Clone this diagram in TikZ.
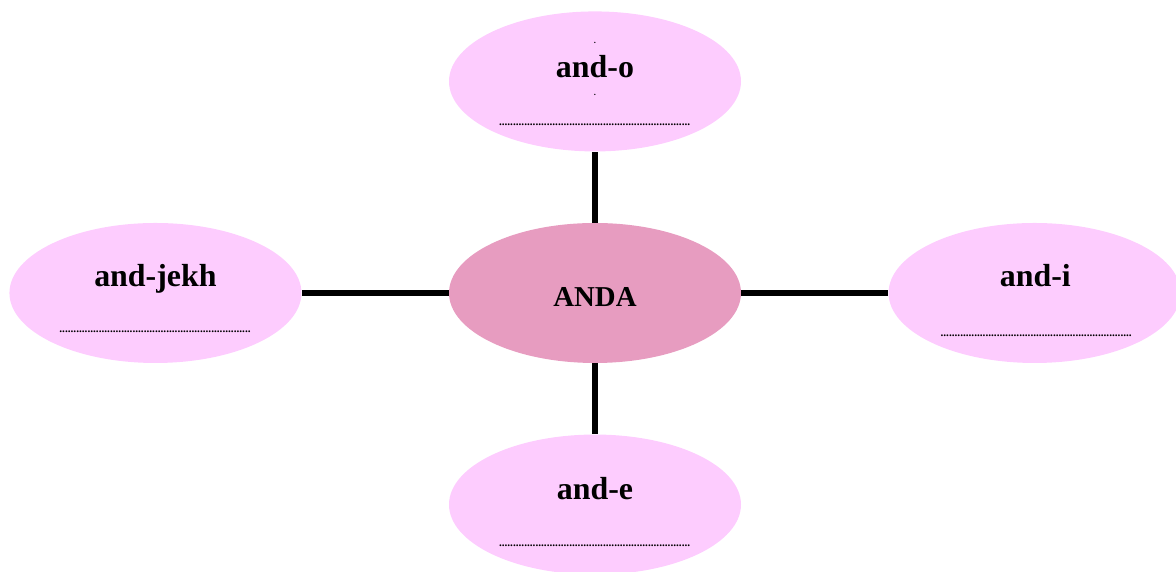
\documentclass[tikz,border=0pt]{standalone}
\usepackage{fontspec}
\setmainfont{Liberation Serif}
\usetikzlibrary{shapes.geometric,positioning}

\definecolor{lightpink}{HTML}{FDCCFE}
\definecolor{rosepink}{HTML}{E79CC0}

% row of dots for writing in
\newcommand{\dotrow}{{\bfseries\fontsize{8}{8}\selectfont\hbox to 4.8cm{\leaders\hbox{.}\hfill}}}

\tikzset{
	bubble/.style={ellipse, fill=lightpink, minimum width=7.3cm, minimum height=3.5cm, inner sep=0pt},
	hub/.style={bubble, fill=rosepink},
	word/.style={font=\bfseries\fontsize{22.7}{22.7}\selectfont, anchor=base},
	spoke/.style={line width=4pt},
}

\begin{document}
\begin{tikzpicture}
		\useasboundingbox (0,0) rectangle (29.4,14.3);

		% Ellipsen
		\node[hub] (anda) at (14.875,6.975) {};
		\node[bubble, above=1.775cm of anda] (ando) {};
		\node[bubble, below=1.775cm of anda] (ande) {};
		\node[bubble, left=3.675cm of anda] (andjekh) {};
		\node[bubble, right=3.675cm of anda] (andi) {};

		% Verbindungen
		\draw[spoke] (anda) -- (ando);
		\draw[spoke] (anda) -- (ande);
		\draw[spoke] (anda) -- (andjekh);
		\draw[spoke] (anda) -- (andi);

		% Beschriftung
		\node[word, font=\bfseries\fontsize{20.5}{20.5}\selectfont] (anda-t) at ([yshift=-0.35cm]anda.center) {ANDA};
		\node[word] (ando-t) at ([yshift=0.11cm]ando.center) {and-o};
		\node[word] (ande-t) at ([yshift=0.12cm]ande.center) {and-e};
		\node[word] (andjekh-t) at ([yshift=0.15cm]andjekh.center) {and-jekh};
		\node[word] (andi-t) at ([xshift=0.02cm, yshift=0.15cm]andi.center) {and-i};

		% Punktzeilen
		\node[anchor=base] (ando-d) at ([yshift=-1.1cm]ando.center) {\dotrow};
		\node[anchor=base] (ande-d) at ([yshift=-1.05cm]ande.center) {\dotrow};
		\node[anchor=base] (andjekh-d) at ([yshift=-1.0cm]andjekh.center) {\dotrow};
		\node[anchor=base] (andi-d) at ([xshift=0.05cm, yshift=-1.1cm]andi.center) {\dotrow};
		\node[anchor=base, font=\bfseries\fontsize{6}{6}\selectfont] (ando-a) at ([yshift=0.95cm]ando.center) {.};
		\node[anchor=base, font=\bfseries\fontsize{6}{6}\selectfont] (ando-b) at ([yshift=-0.35cm]ando.center) {.};
\end{tikzpicture}
\end{document}
